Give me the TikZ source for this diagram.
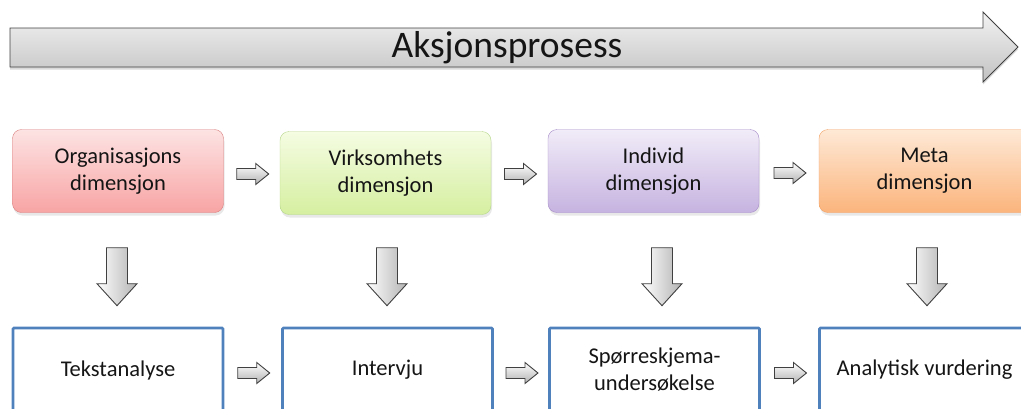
\documentclass[tikz,border=0pt]{standalone}
\usepackage{fontspec}
\setmainfont{Carlito}
\usetikzlibrary{shadows,calc}

\definecolor{txt}{HTML}{151515}
\definecolor{redtop}{HTML}{FDE3E3}
\definecolor{redbot}{HTML}{F8A4A4}
\definecolor{redline}{HTML}{D98080}
\definecolor{grntop}{HTML}{F5FCE2}
\definecolor{grnbot}{HTML}{D5EFA0}
\definecolor{grnline}{HTML}{B5D68A}
\definecolor{viotop}{HTML}{F1ECF8}
\definecolor{viobot}{HTML}{C6B3E0}
\definecolor{violine}{HTML}{A58BC8}
\definecolor{orgtop}{HTML}{FEE9D6}
\definecolor{orgbot}{HTML}{FBB47C}
\definecolor{orgline}{HTML}{F2A366}
\definecolor{methline}{HTML}{4F81BD}
\definecolor{arrline}{HTML}{404040}

\tikzset{
  dimbox/.style={rounded corners=9pt, minimum width=211pt, minimum height=83pt,
    align=center, font=\fontsize{22.5}{27}\selectfont, text=txt,
    drop shadow={opacity=0.18, shadow xshift=1pt, shadow yshift=-3pt}},
  dimred/.style={dimbox, draw=redline, top color=redtop, bottom color=redbot},
  dimgrn/.style={dimbox, draw=grnline, top color=grntop, bottom color=grnbot},
  dimvio/.style={dimbox, draw=violine, top color=viotop, bottom color=viobot},
  dimorg/.style={dimbox, draw=orgline, top color=orgtop, bottom color=orgbot},
  methbox/.style={draw=methline, line width=2.6pt, fill=white, rounded corners=1pt,
    minimum width=210pt, minimum height=84pt, align=center,
    font=\fontsize{22.5}{27}\selectfont, text=txt},
  blockarr/.style={draw=arrline, line width=0.9pt, line join=miter,
    top color=white, bottom color=black!30},
  rightarr/.pic={
    \path[blockarr] (0,-5.5) -- (19,-5.5) -- (19,-10.5) -- (32,0) -- (19,10.5)
      -- (19,5.5) -- (0,5.5) -- cycle;},
  downarr/.pic={
    \path[blockarr, left color=white, right color=black!30]
      (-10.5,0) -- (10.5,0) -- (10.5,36) -- (20,36) -- (0,58) -- (-20,36)
      -- (-10.5,36) -- cycle;}
}

\begin{document}
\begin{tikzpicture}[x=1pt,y=-1pt]
\useasboundingbox (0,0) rectangle (1021,408);
\clip (0,0) rectangle (1021,408);

% process arrow across the top
\path[draw=black!75, line width=0.9pt, line join=miter,
      top color=black!5, bottom color=black!24,
      drop shadow={opacity=0.3, shadow xshift=0pt, shadow yshift=-2.5pt}]
  (10,28) -- (983,28) -- (983,12) -- (1018,47) -- (983,82) -- (983,67)
  -- (10,67) -- cycle;
\node[font=\fontsize{37.5}{42}\selectfont, text=txt] (proc) at (507,48) {Aksjonsprosess};

% dimensions
\node[dimred] (d1) at (118,171)   {Organisasjons\\dimensjon};
\node[dimgrn] (d2) at (385.5,173) {Virksomhets\\dimensjon};
\node[dimvio] (d3) at (653.5,171) {Individ\\dimensjon};
\node[dimorg] (d4) at (924.5,171) {Meta\\dimensjon};

% methods
\node[methbox] (m1) at (118,370)   {Tekstanalyse};
\node[methbox] (m2) at (387.5,370) {Intervju};
\node[methbox] (m3) at (654.5,370) {Spørreskjema-\\undersøkelse};
\node[methbox] (m4) at (924.5,370) {Analytisk vurdering};

% arrows along each row
\foreach \a/\b in {d1/d2,d2/d3,d3/d4}
  \pic at ($($(\a.east)!0.5!(\b.west)$)+(-15,2)$) {rightarr};
\foreach \a/\b in {m1/m2,m2/m3,m3/m4}
  \pic at ($($(\a.east)!0.5!(\b.west)$)+(-15,3)$) {rightarr};

% arrows from each dimension down to its method
\pic at ($(d1.south)+(-1,35)$) {downarr};
\pic at ($(d2.south)+(1.5,33)$) {downarr};
\pic at ($(d3.south)+(8.5,35)$) {downarr};
\pic at ($(d4.south)+(2.5,35)$) {downarr};
\end{tikzpicture}
\end{document}
